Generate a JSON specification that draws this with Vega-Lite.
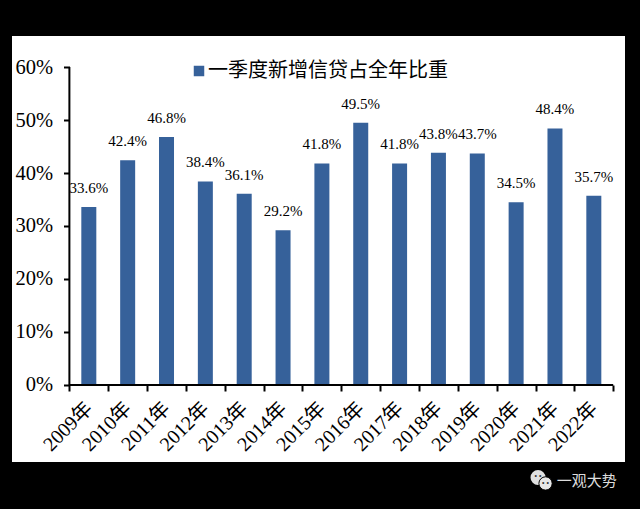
{"$schema":"https://vega.github.io/schema/vega-lite/v6.json","width":613,"height":426,"autosize":"none","padding":{"left":12,"top":36,"right":15,"bottom":47},"background":"#000000","view":{"fill":"#ffffff","stroke":null},"config":{"font":"Liberation Serif, Noto Sans CJK SC"},"data":{"values":[{"year":"2009年","share":0.336,"series":"一季度新增信贷占全年比重"},{"year":"2010年","share":0.424,"series":"一季度新增信贷占全年比重"},{"year":"2011年","share":0.468,"series":"一季度新增信贷占全年比重"},{"year":"2012年","share":0.384,"series":"一季度新增信贷占全年比重"},{"year":"2013年","share":0.361,"series":"一季度新增信贷占全年比重"},{"year":"2014年","share":0.292,"series":"一季度新增信贷占全年比重"},{"year":"2015年","share":0.418,"series":"一季度新增信贷占全年比重"},{"year":"2016年","share":0.495,"series":"一季度新增信贷占全年比重"},{"year":"2017年","share":0.418,"series":"一季度新增信贷占全年比重"},{"year":"2018年","share":0.438,"series":"一季度新增信贷占全年比重"},{"year":"2019年","share":0.437,"series":"一季度新增信贷占全年比重"},{"year":"2020年","share":0.345,"series":"一季度新增信贷占全年比重"},{"year":"2021年","share":0.484,"series":"一季度新增信贷占全年比重"},{"year":"2022年","share":0.357,"series":"一季度新增信贷占全年比重"}]},"encoding":{"x":{"field":"year","type":"nominal","sort":null,"scale":{"paddingInner":0,"paddingOuter":0.89,"align":0.83},"axis":{"title":null,"domain":false,"offset":-77,"tickBand":"extent","tickColor":"#000000","tickWidth":2,"tickSize":6,"labelAngle":-45,"labelAlign":"right","labelBaseline":"middle","labelFontSize":20,"labelColor":"#000000","labelPadding":14,"labelOverlap":false,"labelBound":false,"labelFlush":false,"grid":false}},"y":{"field":"share","type":"quantitative","scale":{"domain":[-0.1453,0.6585],"nice":false,"zero":false},"axis":{"title":null,"domain":false,"offset":-57.5,"values":[0,0.1,0.2,0.3,0.4,0.5,0.6],"format":".0%","tickColor":"#000000","tickWidth":2,"tickSize":6,"labelFontSize":20.5,"labelColor":"#000000","labelPadding":11,"labelBound":false,"labelFlush":false,"grid":false}}},"layer":[{"mark":{"type":"bar","size":15},"encoding":{"color":{"field":"series","type":"nominal","scale":{"range":["#36619a"]},"legend":{"title":null,"orient":"none","legendX":177,"legendY":25,"symbolType":"square","symbolSize":110,"symbolStrokeWidth":0,"symbolOpacity":1,"labelFontSize":20,"labelColor":"#000000","labelOffset":-1,"labelLimit":400,"padding":0}}}},{"mark":{"type":"text","dy":-14,"baseline":"alphabetic","fontSize":15,"color":"#000000"},"encoding":{"text":{"field":"share","type":"quantitative","format":".1%"}}},{"data":{"values":[{"start":"2009年","from":0,"to":0.6}]},"mark":{"type":"rule","color":"#000000","strokeWidth":2},"encoding":{"x":{"field":"start","type":"nominal","bandPosition":0},"y":{"field":"from","type":"quantitative"},"y2":{"field":"to"}}},{"data":{"values":[{"start":"2009年","end":"2022年","zero":0}]},"mark":{"type":"rule","color":"#000000","strokeWidth":2,"x2Offset":19.4},"encoding":{"x":{"field":"start","type":"nominal","bandPosition":0},"x2":{"field":"end"},"y":{"field":"zero","type":"quantitative"}}},{"data":{"values":[{"year":"2021年","v":-0.1745}]},"mark":{"type":"point","filled":true,"size":227,"color":"#e0e0e0","opacity":1},"encoding":{"x":{"field":"year","type":"nominal","bandPosition":0.064},"y":{"field":"v","type":"quantitative"}}},{"data":{"values":[{"year":"2021年","v":-0.1858}]},"mark":{"type":"point","filled":true,"size":177,"color":"#e8e8e8","opacity":1,"stroke":"#000000","strokeWidth":1},"encoding":{"x":{"field":"year","type":"nominal","bandPosition":0.257},"y":{"field":"v","type":"quantitative"}}},{"data":{"values":[{"year":"2021年","v":-0.172,"label":"• •"}]},"mark":{"type":"text","fontSize":7,"color":"#333333","font":"Liberation Sans"},"encoding":{"text":{"field":"label"},"x":{"field":"year","type":"nominal","bandPosition":0.064},"y":{"field":"v","type":"quantitative"}}},{"data":{"values":[{"year":"2021年","v":-0.184,"label":"• •"}]},"mark":{"type":"text","fontSize":7,"color":"#333333","font":"Liberation Sans"},"encoding":{"text":{"field":"label"},"x":{"field":"year","type":"nominal","bandPosition":0.257},"y":{"field":"v","type":"quantitative"}}},{"data":{"values":[{"year":"2022年","v":-0.181,"label":"一观大势"}]},"mark":{"type":"text","fontSize":15,"color":"#dddddd","font":"Noto Sans CJK SC","xOffset":-7},"encoding":{"text":{"field":"label"},"y":{"field":"v","type":"quantitative"}}}]}
